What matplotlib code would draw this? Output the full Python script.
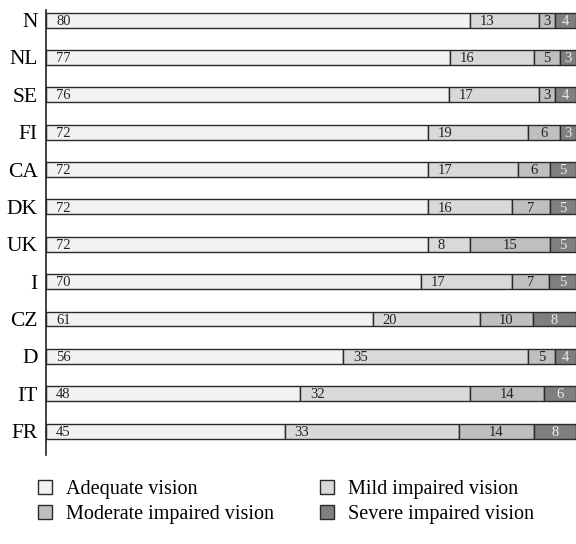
import matplotlib
matplotlib.use("Agg")
import matplotlib.pyplot as plt
import numpy as np

plt.rcParams['font.family'] = ['Liberation Serif', 'DejaVu Serif']

countries = ["N", "NL", "SE", "FI", "CA", "DK", "UK", "I", "CZ", "D", "IT", "FR"]
adequate = [80, 77, 76, 72, 72, 72, 72, 70, 61, 56, 48, 45]
mild = [13, 16, 17, 19, 17, 16, 8, 17, 20, 35, 32, 33]
moderate = [3, 5, 3, 6, 6, 7, 15, 7, 10, 5, 14, 14]
severe = [4, 3, 4, 3, 5, 5, 5, 5, 8, 4, 6, 8]

series = [adequate, mild, moderate, severe]
names = ["Adequate vision", "Mild impaired vision",
         "Moderate impaired vision", "Severe impaired vision"]
colors = ["#f2f2f2", "#d9d9d9", "#bfbfbf", "#7f7f7f"]
text_colors = ["#222222", "#222222", "#222222", "#ececec"]
modes = ["left", "left", "center", "center"]

fig = plt.figure(figsize=(5.76, 5.44), dpi=100)
ax = fig.add_axes([0.08, 0.1636, 0.92, 0.818])

y = np.arange(len(countries))
totals = np.sum(np.array(series, dtype=float), axis=0)
left = np.zeros(len(countries))
handles = []
for vals, name, col, tc, mode in zip(series, names, colors, text_colors, modes):
    vals = np.array(vals, dtype=float)
    widths = vals / totals * 100
    bars = ax.barh(y, widths, left=left, height=0.4, color=col,
                   edgecolor="#2a2a2a", linewidth=1.0, label=name)
    handles.append(bars)
    for yi, l, w, v in zip(y, left, widths, vals):
        if mode == "left":
            x = l + 1.9
            ha = "left"
        else:
            x = l + w / 2
            ha = "center"
        ax.text(x, yi + 0.03, f"{int(v)}", ha=ha, va="center",
                fontsize=10.5, color=tc)
    left = left + widths

ax.set_xlim(0, 100)
ax.set_ylim(11.64, -0.27)
ax.set_yticks(y)
ax.set_yticklabels(countries, fontsize=15.5)
ax.tick_params(axis="y", length=0, pad=6)
ax.set_xticks([])
for s in ["top", "right", "bottom"]:
    ax.spines[s].set_visible(False)
ax.spines["left"].set_linewidth(1.2)
ax.spines["left"].set_color("#222222")

order = [0, 2, 1, 3]
leg = fig.legend([handles[i] for i in order], [names[i] for i in order],
                 ncol=2, frameon=False, loc="upper left",
                 bbox_to_anchor=(0.066, 1 - 480 / 544), fontsize=14.5,
                 borderaxespad=0, borderpad=0,
                 handlelength=0.7, handleheight=0.7, handletextpad=0.7,
                 columnspacing=2.25, labelspacing=0.28)

fig.savefig("out.png", dpi=100)
